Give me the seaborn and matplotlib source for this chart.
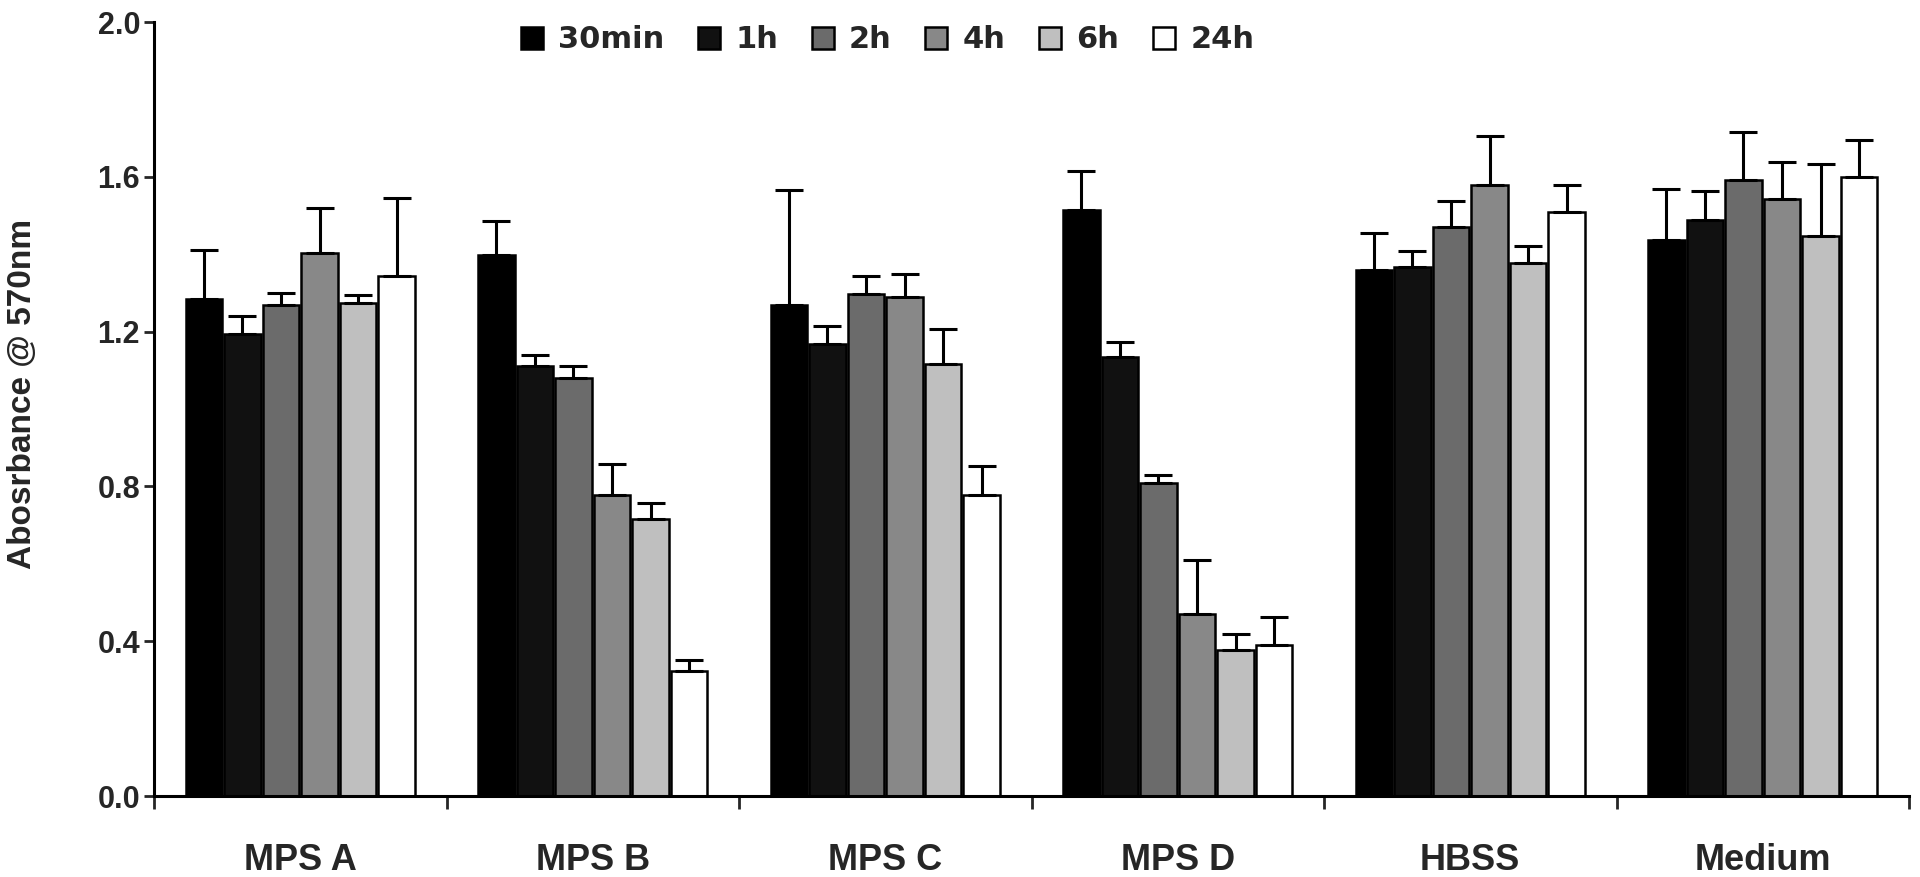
import matplotlib
matplotlib.use('Agg')
import matplotlib.pyplot as plt
from matplotlib.patches import Patch
import pandas as pd
import seaborn as sns

# groups and time points
groups = ['MPS A', 'MPS B', 'MPS C', 'MPS D', 'HBSS', 'Medium']
times = ['30min', '1h', '2h', '4h', '6h', '24h']

# mean absorbance per group (one value per time point)
mps_a = [1.283, 1.194, 1.268, 1.404, 1.273, 1.343]
mps_b = [1.399, 1.111, 1.080, 0.778, 0.716, 0.322]
mps_c = [1.270, 1.167, 1.296, 1.289, 1.116, 0.778]
mps_d = [1.515, 1.134, 0.808, 0.471, 0.376, 0.390]
hbss = [1.360, 1.366, 1.470, 1.578, 1.378, 1.510]
medium = [1.436, 1.489, 1.593, 1.543, 1.446, 1.599]

# upper error bars
err_a = [0.127, 0.046, 0.032, 0.116, 0.021, 0.203]
err_b = [0.086, 0.028, 0.031, 0.080, 0.042, 0.029]
err_c = [0.297, 0.047, 0.047, 0.061, 0.090, 0.074]
err_d = [0.101, 0.039, 0.021, 0.138, 0.042, 0.072]
err_hbss = [0.096, 0.041, 0.067, 0.128, 0.042, 0.068]
err_medium = [0.133, 0.075, 0.122, 0.095, 0.186, 0.096]

means = [mps_a, mps_b, mps_c, mps_d, hbss, medium]
errs = [err_a, err_b, err_c, err_d, err_hbss, err_medium]

colors = ['#000000', '#111111', '#6b6b6b', '#888888', '#bfbfbf', '#ffffff']

rows = []
for g, m, e in zip(groups, means, errs):
    for t, v, s in zip(times, m, e):
        rows.append({'group': g, 'time': t, 'value': v, 'err': s})
df = pd.DataFrame(rows)

sns.set_style('ticks')
plt.rcParams['font.family'] = ['Liberation Sans', 'DejaVu Sans']
plt.rcParams['font.weight'] = 'bold'

fig = plt.figure(figsize=(19.2, 8.77), dpi=100)
ax = fig.add_axes([154 / 1920, 1 - 796 / 877, (1909 - 154) / 1920, (796 - 22) / 877])

sns.barplot(data=df, x='group', y='value', hue='time', order=groups, hue_order=times,
            palette=colors, errorbar=None, width=0.79, gap=0.06,
            edgecolor='black', linewidth=1.8, saturation=1, legend=False, ax=ax)

# error bars (upper only) at the bar centres
for cont, t in zip(ax.containers, times):
    sub = df[df['time'] == t].set_index('group').loc[groups]
    xs = [b.get_x() + b.get_width() / 2 for b in cont]
    hs = [b.get_height() for b in cont]
    ax.errorbar(xs, hs, yerr=[[0] * len(xs), sub['err'].values], fmt='none',
                ecolor='black', elinewidth=2.2, capsize=10, capthick=2.2, zorder=1)

ax.set_xlim(-0.5, 5.5)
ax.set_ylim(0, 2.0)
ax.set_yticks([0, 0.4, 0.8, 1.2, 1.6, 2.0])
ax.set_yticklabels(['0.0', '0.4', '0.8', '1.2', '1.6', '2.0'], fontsize=22, fontweight='bold')
ax.set_xticks(range(len(groups)))
ax.set_xticklabels(groups, fontsize=26, fontweight='bold')
ax.set_xticks([i - 0.5 for i in range(len(groups) + 1)], minor=True)
ax.tick_params(axis='x', which='major', length=0, pad=34)
ax.tick_params(axis='x', which='minor', length=9, width=2, direction='out')
ax.tick_params(axis='y', length=7, width=2, direction='out', pad=3)

for side in ['top', 'right']:
    ax.spines[side].set_visible(False)
for side in ['left', 'bottom']:
    ax.spines[side].set_linewidth(2.2)
    ax.spines[side].set_color('black')

ax.set_xlabel('')
ax.set_ylabel('Abosrbance @ 570nm', fontsize=24, fontweight='bold')
ax.yaxis.set_label_coords(-0.066, 0.519)

handles = [Patch(facecolor=c, edgecolor='black', linewidth=1.8, label=t) for c, t in zip(colors, times)]
ax.legend(handles=handles, loc='center', bbox_to_anchor=(0.418, 0.977), ncol=6, frameon=False,
          prop={'family': 'DejaVu Sans', 'weight': 'bold', 'size': 22},
          handlelength=0.72, handleheight=0.72, handletextpad=0.5, columnspacing=1.1)

fig.savefig('out.png', dpi=100)
